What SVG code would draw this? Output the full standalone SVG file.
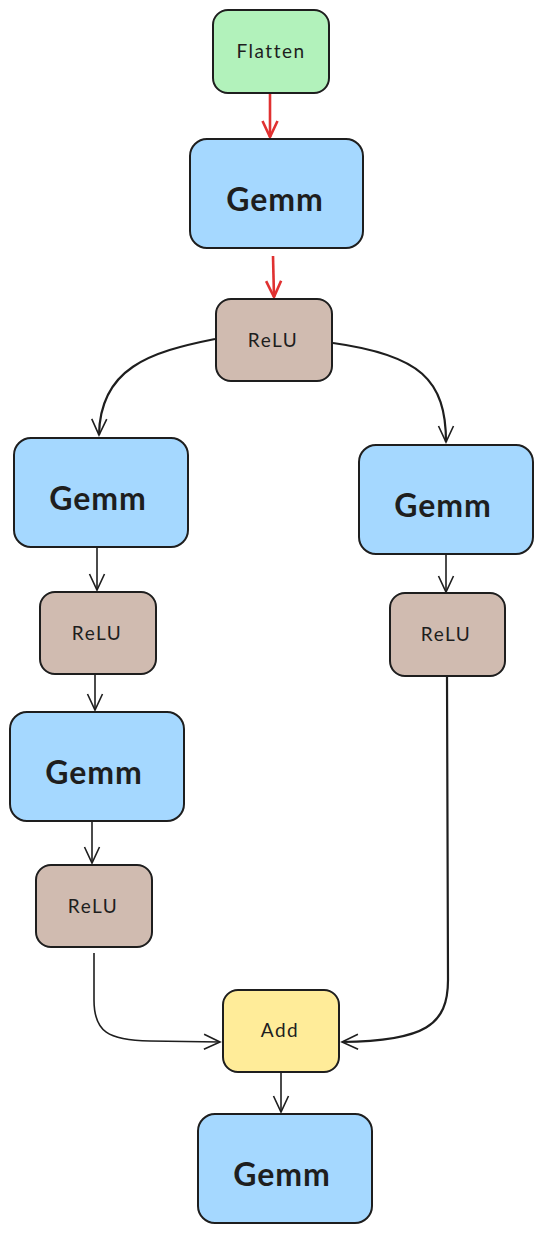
<svg xmlns="http://www.w3.org/2000/svg" width="543" height="1234" viewBox="0 0 543 1234">
<style>
.n{stroke:#1e1e1e;stroke-width:2}
.gemm{fill:#a5d8ff}
.relu{fill:#d0bbb0}
.flat{fill:#b2f2bb}
.add{fill:#ffec99}
.big{font-family:"Lato","Noto Sans",sans-serif;font-weight:bold;font-size:32px;letter-spacing:1px;fill:#1e1e1e;text-anchor:middle;dominant-baseline:central}
.sm{font-family:"Lato","Noto Sans",sans-serif;font-size:19px;letter-spacing:1.5px;fill:#1e1e1e;text-anchor:middle;dominant-baseline:central}
.c{fill:none;stroke:#1e1e1e;stroke-width:1.6;marker-end:url(#a)}
.t{stroke-width:2.2}
.r{fill:none;stroke:#e03131;stroke-width:2.6;marker-end:url(#ar)}
</style>
<defs>
<marker id="a" viewBox="0 0 20 20" refX="18" refY="10" markerWidth="20" markerHeight="20" markerUnits="userSpaceOnUse" orient="auto">
<path d="M2,2.5 L18,10 L2,17.5" fill="none" stroke="#1e1e1e" stroke-width="1.6"/>
</marker>
<marker id="ar" viewBox="0 0 20 20" refX="18" refY="10" markerWidth="20" markerHeight="20" markerUnits="userSpaceOnUse" orient="auto">
<path d="M2,2.5 L18,10 L2,17.5" fill="none" stroke="#e03131" stroke-width="2.6"/>
</marker>
</defs>
<g id="connectors">
<path class="r" d="M270,94 L270,137"/>
<path class="r" d="M273,256 L274,297"/>
<path class="c t" d="M215,339 C150,352 100,368 99,435"/>
<path class="c t" d="M333,343 C420,355 446,380 446,442"/>
<path class="c" d="M97,548 L97,590"/>
<path class="c" d="M446,555 L446,592"/>
<path class="c" d="M95,675 L95,710"/>
<path class="c" d="M92,822 L92,863"/>
<path class="c" d="M94,953 L94,1000 C94,1032 108,1040 150,1041 L220,1042"/>
<path class="c t" d="M447,677 L448,980 C448,1025 425,1041 342,1042"/>
<path class="c" d="M281,1073 L281,1112"/>
</g>
<g id="flatten"><rect class="n flat" x="213" y="10" width="116" height="83" rx="15"/><text class="sm" x="271" y="50">Flatten</text></g>
<g id="gemm1"><rect class="n gemm" x="190" y="139" width="173" height="109" rx="17"/><text class="big" x="275" y="198">Gemm</text></g>
<g id="relu1"><rect class="n relu" x="216" y="299" width="116" height="82" rx="15"/><text class="sm" x="273" y="339">ReLU</text></g>
<g id="gemmL1"><rect class="n gemm" x="14" y="438" width="174" height="109" rx="17"/><text class="big" x="98" y="497">Gemm</text></g>
<g id="gemmR1"><rect class="n gemm" x="359" y="445" width="174" height="109" rx="17"/><text class="big" x="443" y="504">Gemm</text></g>
<g id="reluL1"><rect class="n relu" x="40" y="592" width="116" height="82" rx="15"/><text class="sm" x="97" y="632">ReLU</text></g>
<g id="reluR1"><rect class="n relu" x="390" y="593" width="115" height="83" rx="15"/><text class="sm" x="446" y="633">ReLU</text></g>
<g id="gemmL2"><rect class="n gemm" x="10" y="712" width="174" height="109" rx="17"/><text class="big" x="94" y="771">Gemm</text></g>
<g id="reluL2"><rect class="n relu" x="36" y="865" width="116" height="82" rx="15"/><text class="sm" x="93" y="905">ReLU</text></g>
<g id="add"><rect class="n add" x="223" y="990" width="116" height="82" rx="15"/><text class="sm" x="280" y="1029">Add</text></g>
<g id="gemmFinal"><rect class="n gemm" x="198" y="1114" width="174" height="109" rx="17"/><text class="big" x="282" y="1173">Gemm</text></g>
</svg>
